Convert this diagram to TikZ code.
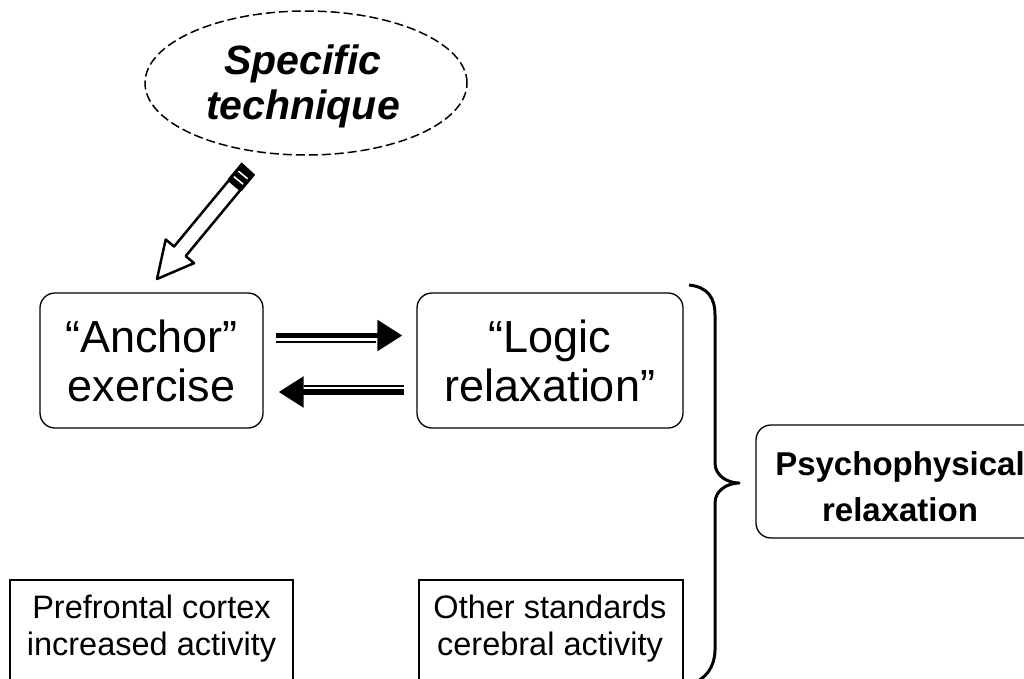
\documentclass[tikz,border=0pt]{standalone}
\usepackage{fontspec}
\setmainfont{Liberation Sans}
\usetikzlibrary{arrows.meta,shapes.geometric}
\begin{document}
\begin{tikzpicture}[x=1pt,y=-1pt,
  rbox/.style={draw, rounded corners=15pt, line width=1.3pt, align=center, inner sep=0pt},
  bigtext/.style={font=\fontsize{45}{49}\selectfont},
  lowtext/.style={font=\fontsize{32.5}{37}\selectfont, align=center, inner sep=0pt},
  thickarr/.style={line width=5.5pt, -{Triangle[length=25pt,width=30pt]}},
  thinln/.style={line width=2pt},
  bracepath/.style={line width=3pt, line join=round},
]
\useasboundingbox (0,0) rectangle (1024,678);
\clip (0,0) rectangle (1024,678);

% ellipse
\node[ellipse, draw, line width=1.5pt, dash pattern=on 9pt off 4pt,
      minimum width=322pt, minimum height=144pt, inner sep=0pt] (tech) at (306,83) {};
\node[align=center, inner sep=0pt,
      font=\fontsize{41}{45}\selectfont\bfseries\itshape] (techtext) at (303,86)
      {Specific\\technique};

% pencil arrow
\draw[line width=2.5pt, line join=round, fill=white]
  (157,279) -- (165.7,239.5) -- (174.1,246.5) -- (228.9,180.3)
  -- (240.5,189.9) -- (185.7,256.1) -- (194.1,263.1) -- cycle;
\fill[black] (227.6,179.2) -- (241.6,162.4) -- (255.2,174.8) -- (241.8,191.0) -- cycle;
\draw[white, line width=1.6pt] (233.9,176.6) -- (243.1,184.2);
\draw[white, line width=1.6pt] (238.4,171.2) -- (247.6,178.8);

% main boxes
\node[rbox, bigtext, minimum width=223pt, minimum height=135pt] (anchor) at (151.5,360.5)
  {``Anchor''\\exercise};
\node[rbox, bigtext, minimum width=266pt, minimum height=135pt] (logic) at (550,360.5)
  {``Logic\\relaxation''};

% double arrows
\draw[thickarr] ([xshift=12pt,yshift=25pt]anchor.east) -- ([xshift=-14pt,yshift=25pt]logic.west);
\draw[thinln] ([xshift=12pt,yshift=18.5pt]anchor.east) -- ([xshift=-40pt,yshift=18.5pt]logic.west);
\draw[thickarr] ([xshift=-12pt,yshift=-31.5pt]logic.west) -- ([xshift=15pt,yshift=-31.5pt]anchor.east);
\draw[thinln] ([xshift=-12pt,yshift=-25.5pt]logic.west) -- ([xshift=40pt,yshift=-25.5pt]anchor.east);

% brace
\coordinate (bt) at (689,285);
\coordinate (bm) at (739,483);
\coordinate (bb) at (690,684);
\draw[bracepath] (bt) .. controls (708,287) and (715,298) .. (715,315)
  -- (715,463) .. controls (715,476) and (728,483) .. (bm)
  .. controls (728,483) and (715,490) .. (715,503)
  -- (715,650) .. controls (715,666) and (706,680) .. (bb);

% psychophysical box
\node[rbox, minimum width=300pt, minimum height=113pt] (psych) at (906,481.5) {};
\node[align=center, inner sep=0pt, font=\fontsize{33}{46}\selectfont\bfseries] (psychtext) at (900,487)
  {Psychophysical\\relaxation};

% bottom boxes (open at the bottom edge)
\node[lowtext] (pf) at (151.5,629) {Prefrontal cortex\\increased activity};
\node[lowtext] (os) at (550,629) {Other standards\\cerebral activity};
\draw[line width=1.5pt] (10,700) -- (10,580) -- (293,580) -- (293,700);
\draw[line width=1.5pt] (419,700) -- (419,580) -- (683,580) -- (683,700);
\end{tikzpicture}
\end{document}
